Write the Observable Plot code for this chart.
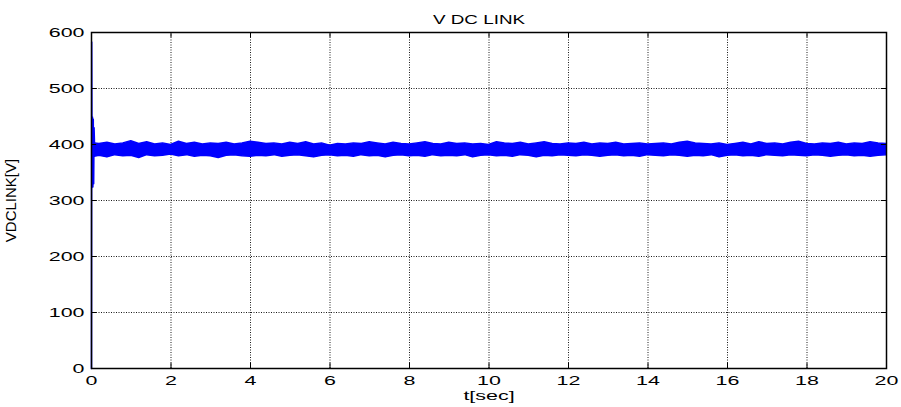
<!DOCTYPE html>
<html>
<head>
<meta charset="utf-8">
<script src="https://cdn.jsdelivr.net/npm/d3@7"></script>
<script src="https://cdn.jsdelivr.net/npm/@observablehq/plot@0.6"></script>
<style>
  html, body { margin: 0; padding: 0; background: #fff; }
  #chart { width: 901px; height: 407px; }
</style>
</head>
<body>
<div id="chart"></div>
<script>
// ---- data ----
const titleText = "V DC LINK";
const xLabelText = "t[sec]";
const yLabelText = "VDCLINK[V]";

const xTicks = [0, 2, 4, 6, 8, 10, 12, 14, 16, 18, 20];
const yTicks = [0, 100, 200, 300, 400, 500, 600];

// start-up transient (t in s, V)
const tStart = [0, 0.005, 0.015, 0.025, 0.035, 0.045, 0.055, 0.065, 0.08];
const vStart = [0, 583, 330, 449, 324, 445, 330, 430, 390];

// steady-state ripple envelope (upper / lower edge of the band)
const tEnv = [0.08, 0.2, 0.4, 0.6, 0.8, 1.0, 1.2, 1.4, 1.6, 1.8, 2.0,
  2.2, 2.4, 2.6, 2.8, 3.0, 3.2, 3.4, 3.6, 3.8, 4.0,
  4.2, 4.4, 4.6, 4.8, 5.0, 5.2, 5.4, 5.6, 5.8, 6.0,
  6.2, 6.4, 6.6, 6.8, 7.0, 7.2, 7.4, 7.6, 7.8, 8.0,
  8.2, 8.4, 8.6, 8.8, 9.0, 9.2, 9.4, 9.6, 9.8, 10.0,
  10.2, 10.4, 10.6, 10.8, 11.0, 11.2, 11.4, 11.6, 11.8, 12.0,
  12.2, 12.4, 12.6, 12.8, 13.0, 13.2, 13.4, 13.6, 13.8, 14.0,
  14.2, 14.4, 14.6, 14.8, 15.0, 15.2, 15.4, 15.6, 15.8, 16.0,
  16.2, 16.4, 16.6, 16.8, 17.0, 17.2, 17.4, 17.6, 17.8, 18.0,
  18.2, 18.4, 18.6, 18.8, 19.0, 19.2, 19.4, 19.6, 19.8, 20.0];
const vHigh = [402, 401, 403, 400, 402, 406, 401, 404, 400, 402, 399,
  405, 401, 403, 400, 402, 401, 403, 400, 402, 405,
  403, 401, 402, 400, 403, 401, 404, 400, 402, 398,
  401, 400, 402, 401, 404, 402, 400, 403, 401, 400,
  402, 404, 401, 400, 403, 401, 402, 400, 401, 399,
  404, 402, 401, 403, 400, 402, 404, 401, 400, 402,
  401, 403, 400, 402, 401, 403, 400, 401, 402, 400,
  401, 402, 400, 403, 405, 402, 401, 400, 402, 399,
  401, 403, 400, 404, 401, 402, 400, 403, 405, 401,
  400, 402, 401, 403, 400, 402, 401, 404, 402, 401];
const vLow = [378, 380, 377, 381, 379, 380, 376, 381, 379, 380, 382,
  379, 381, 378, 380, 379, 376, 380, 381, 379, 378,
  380, 379, 381, 378, 380, 381, 379, 377, 380, 381,
  379, 380, 378, 381, 379, 380, 377, 380, 381, 379,
  380, 378, 381, 379, 380, 379, 381, 377, 380, 381,
  379, 380, 378, 381, 380, 377, 380, 379, 381, 380,
  379, 381, 380, 378, 380, 381, 379, 380, 378, 381,
  380, 379, 381, 380, 378, 380, 379, 381, 377, 380,
  381, 379, 380, 378, 381, 380, 379, 381, 380, 379,
  381, 380, 378, 380, 381, 379, 380, 378, 380, 381];

// ---- build tables ----
const startData = tStart.map((t, i) => ({t, v: vStart[i]}));
const envData = tEnv.map((t, i) => ({t, hi: vHigh[i], lo: vLow[i]}));
const innerX = xTicks.slice(1, -1);
const innerY = yTicks.slice(1, -1);
const blue = "#0000ff";

const chart = Plot.plot({
  width: 901,
  height: 407,
  marginLeft: 91,
  marginRight: 15,
  marginTop: 32,
  marginBottom: 39,
  style: {fontFamily: "'Liberation Sans', Arial, Helvetica, sans-serif", fontSize: "13px", color: "#000", background: "#fff"},
  x: {domain: [0, 20], ticks: xTicks, label: null},
  y: {domain: [0, 600], ticks: yTicks, label: null},
  marks: [
    // dotted grid
    Plot.ruleX(innerX, {stroke: "#000", strokeWidth: 1, strokeDasharray: "1,1.5", strokeOpacity: 0.9}),
    Plot.ruleY(innerY, {stroke: "#000", strokeWidth: 1, strokeDasharray: "1,1.5", strokeOpacity: 0.9}),
    // signal
    Plot.areaY(envData, {x: "t", y1: "lo", y2: "hi", fill: blue, stroke: blue, strokeWidth: 1.5}),
    Plot.line(startData, {x: "t", y: "v", stroke: blue, strokeWidth: 1.5}),
    // inward ticks on all four sides
    Plot.ruleX(innerX, {y1: 0, y2: 9, stroke: "#000", strokeWidth: 1}),
    Plot.ruleX(innerX, {y1: 591, y2: 600, stroke: "#000", strokeWidth: 1}),
    Plot.ruleY(innerY, {x1: 0, x2: 0.13, stroke: "#000", strokeWidth: 1}),
    Plot.ruleY(innerY, {x1: 19.87, x2: 20, stroke: "#000", strokeWidth: 1}),
    Plot.frame({stroke: "#000", strokeWidth: 1.5}),
    // axes (labels only)
    Plot.axisX(xTicks, {tickSize: 0, tickPadding: 7, fontSize: 13, label: null}),
    Plot.axisY(yTicks, {tickSize: 0, tickPadding: 7, fontSize: 13, label: null}),
    // titles
    Plot.text([titleText], {frameAnchor: "top", lineAnchor: "middle", dy: -13, dx: -10, fontSize: 13, fill: "#000"}),
    Plot.text([xLabelText], {frameAnchor: "bottom", lineAnchor: "middle", dy: 27, fontSize: 13, fill: "#000"}),
    Plot.text([yLabelText], {frameAnchor: "left", textAnchor: "middle", lineAnchor: "middle", dx: -80, rotate: -90, fontSize: 15, fill: "#000"})
  ]
});
document.getElementById("chart").appendChild(chart);

// horizontally stretched lettering as in the reference
function stretchEl(el, sx) {
  const tr = el.getAttribute("transform");
  if (tr) {
    el.setAttribute("transform", tr + ` scale(${sx},1)`);
  } else {
    const x = +(el.getAttribute("x") || 0), y = +(el.getAttribute("y") || 0);
    el.removeAttribute("x"); el.removeAttribute("y");
    el.setAttribute("transform", `translate(${x},${y}) scale(${sx},1)`);
  }
}
chart.querySelectorAll('g[aria-label="x-axis tick label"] text, g[aria-label="y-axis tick label"] text')
  .forEach(el => stretchEl(el, 1.65));
chart.querySelectorAll("text").forEach(el => {
  if (el.textContent === titleText) stretchEl(el, 1.45);
  else if (el.textContent === xLabelText) stretchEl(el, 1.65);
});
</script>
</body>
</html>
